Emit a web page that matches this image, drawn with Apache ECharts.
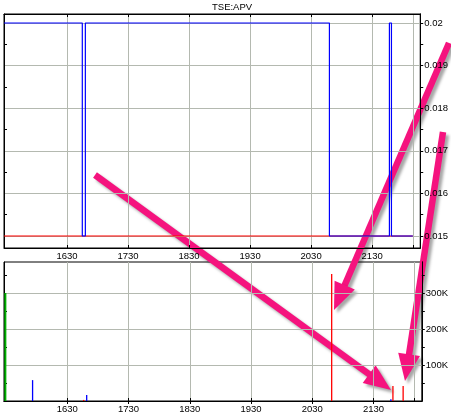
<!DOCTYPE html>
<html>
<head>
<meta charset="utf-8">
<script src="https://cdn.jsdelivr.net/npm/echarts@6/dist/echarts.min.js"></script>
<style>
html,body{margin:0;padding:0;background:#fff;}
#chart{width:451px;height:420px;}
</style>
</head>
<body>
<div id="chart"></div>
<script>
// ---- data ----
const chartTitle = 'TSE:APV';
const hourTickLabels = ['1630', '1730', '1830', '1930', '2030', '2130'];
const sessionEnd = '22:10';
const priceTickLabels = [0.015, 0.016, 0.017, 0.018, 0.019, 0.02];
const volumeTickLabels = [100000, 200000, 300000];

// ask price changes: [time, price] (price holds from that time on)
const askTimes  = ['15:28', '16:45', '16:48', '20:48', '21:47', '21:49', '22:10'];
const askPrices = [0.02,    0.015,   0.02,    0.015,   0.02,    0.015,   0.015];
// bid price changes
const bidTimes  = ['15:28', '22:10'];
const bidPrices = [0.015,   0.015];

// volume bars
const openVolTimes = ['15:29'];
const openVolumes  = [300000];
const buyVolTimes  = ['15:56', '16:49', '21:47'];
const buyVolumes   = [58000,   17000,   5000];
const sellVolTimes = ['16:46', '20:49', '21:49', '21:59'];
const sellVolumes  = [3000,    353000,  42000,   42000];

// ---- helpers ----
function toMin(s) { const p = s.split(':'); return (+p[0]) * 60 + (+p[1]); }
function hhmmToMin(s) { return Math.floor(+s / 100) * 60 + (+s % 100); }
function minToHHMM(m) { return String(Math.floor(m / 60) * 100 + Math.round(m % 60)); }
function pairs(ts, vs) { return ts.map((t, i) => [toMin(t), vs[i]]); }

const hourValues = hourTickLabels.map(hhmmToMin);
const gridTickValues = hourValues.concat([toMin(sessionEnd)]);
const xMin = 928, xMax = 1337.3;
const pMin = 0.014718, pMax = 0.020211;
const vMax = 386000;
const priceMinor = [0.0145, 0.0155, 0.0165, 0.0175, 0.0185, 0.0195];
const volMinor = [50000, 150000, 250000, 350000];

const FONT = 'Liberation Sans, Arial, sans-serif';
const gridColor = '#b4b9b0';

function xAxisMain(gi) {
  return {
    type: 'value', gridIndex: gi, min: xMin, max: xMax, position: 'bottom',
    axisLine: { show: true, lineStyle: { color: '#000', width: 1 } },
    axisTick: { show: true, inside: true, length: 3, customValues: gridTickValues, lineStyle: { color: '#000' } },
    axisLabel: { show: true, customValues: hourValues, formatter: v => minToHHMM(v), fontSize: 9.5, color: '#000', fontFamily: FONT, margin: 3 },
    splitLine: { show: true, lineStyle: { color: gridColor, width: 1 } }
  };
}
function xAxisTop(gi) {
  return {
    type: 'value', gridIndex: gi, min: xMin, max: xMax, position: 'top',
    axisLine: { show: true, lineStyle: { color: '#000' } },
    axisTick: { show: true, inside: true, length: 3, customValues: hourValues, lineStyle: { color: '#000' } },
    axisLabel: { show: false }, splitLine: { show: false }
  };
}
function yAxisDef(gi, pos, min, max, ticks, labels, fmt, split, inside) {
  return {
    type: 'value', gridIndex: gi, min: min, max: max, position: pos,
    axisLine: { show: true, lineStyle: { color: '#000' } },
    axisTick: { show: true, inside: !!inside, length: 3, customValues: ticks, lineStyle: { color: '#000' } },
    axisLabel: labels ? { show: true, customValues: labels, formatter: fmt, fontSize: 9.5, color: '#000', fontFamily: FONT, margin: 4 } : { show: false },
    splitLine: { show: !!split, lineStyle: { color: gridColor, width: 1 } }
  };
}

// ---- annotation arrows (drawn over the chart) ----
const arrowAnnotations = [
  { from: [95, 175], to: [391, 390] },
  { from: [449, 43], to: [334, 310] },
  { from: [443, 132], to: [405, 381] }
];
function arrowGraphic(a) {
  const dx = a.to[0] - a.from[0], dy = a.to[1] - a.from[1];
  const len = Math.sqrt(dx * dx + dy * dy);
  const ux = dx / len, uy = dy / len, nx = -uy, ny = ux;
  const L = 27, W = 11;
  const bx = a.to[0] - ux * L, by = a.to[1] - uy * L;
  const shadow = { shadowColor: 'rgba(0,0,0,0.35)', shadowBlur: 3, shadowOffsetX: 3, shadowOffsetY: 3 };
  return {
    type: 'group', z: 100,
    children: [
      { type: 'line', shape: { x1: a.from[0], y1: a.from[1], x2: bx + ux * 2, y2: by + uy * 2 },
        style: Object.assign({ stroke: '#f5137e', lineWidth: 6.5, lineCap: 'butt' }, shadow) },
      { type: 'polygon', shape: { points: [a.to, [bx + nx * W, by + ny * W], [bx - nx * W, by - ny * W]] },
        style: Object.assign({ fill: '#f5137e' }, shadow) }
    ]
  };
}

const chart = echarts.init(document.getElementById('chart'), null, { renderer: 'canvas' });
chart.setOption({
  animation: false,
  backgroundColor: '#fff',
  title: { text: chartTitle, left: 212, top: 2, padding: 0, textStyle: { fontSize: 9.5, fontWeight: 'normal', color: '#000', fontFamily: FONT } },
  grid: [
    { left: 4, right: 28, top: 14, height: 234, show: true, borderColor: '#000', borderWidth: 1 },
    { left: 4, right: 28, top: 262, height: 139, show: true, borderColor: '#000', borderWidth: 1 }
  ],
  xAxis: [xAxisMain(0), xAxisMain(1), xAxisTop(0), xAxisTop(1)],
  yAxis: [
    yAxisDef(0, 'right', pMin, pMax, priceTickLabels, priceTickLabels, v => String(+v.toFixed(3)), true, false),
    yAxisDef(1, 'right', 0, vMax, volumeTickLabels, volumeTickLabels, v => (v / 1000) + 'K', true, false),
    yAxisDef(0, 'right', pMin, pMax, priceMinor, null, null, false, false),
    yAxisDef(1, 'right', 0, vMax, volMinor, null, null, false, false),
    yAxisDef(0, 'left', pMin, pMax, priceMinor, null, null, false, true),
    yAxisDef(1, 'left', 0, vMax, volMinor, null, null, false, true)
  ],
  series: [
    { type: 'line', name: 'Bid', xAxisIndex: 0, yAxisIndex: 0, step: 'end', symbol: 'none',
      data: pairs(bidTimes, bidPrices), lineStyle: { color: '#ff0000', width: 1 } },
    { type: 'line', name: 'Ask', xAxisIndex: 0, yAxisIndex: 0, step: 'end', symbol: 'none',
      data: pairs(askTimes, askPrices), lineStyle: { color: '#0000ff', width: 1.2 } },
    { type: 'bar', name: 'Open', xAxisIndex: 1, yAxisIndex: 1, barWidth: 2,
      data: pairs(openVolTimes, openVolumes), itemStyle: { color: '#00b000' } },
    { type: 'bar', name: 'Buy', xAxisIndex: 1, yAxisIndex: 1, barWidth: 1.3, barGap: '-100%',
      data: pairs(buyVolTimes, buyVolumes), itemStyle: { color: '#0000ff' } },
    { type: 'bar', name: 'Sell', xAxisIndex: 1, yAxisIndex: 1, barWidth: 1.3, barGap: '-100%',
      data: pairs(sellVolTimes, sellVolumes), itemStyle: { color: '#ff0000' } }
  ],
  graphic: arrowAnnotations.map(arrowGraphic)
});
</script>
</body>
</html>
